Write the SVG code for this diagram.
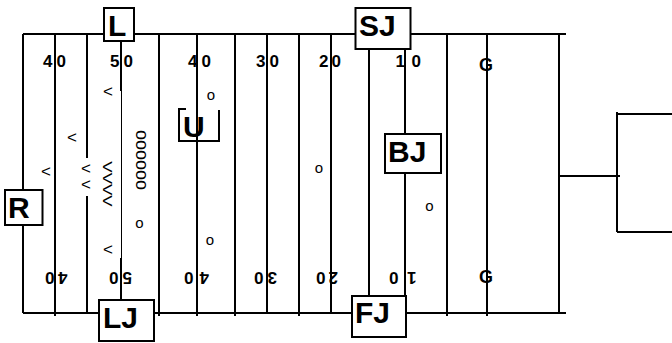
<svg xmlns="http://www.w3.org/2000/svg" width="672" height="343" viewBox="0 0 672 343">
<style>
.ln{stroke:#000;stroke-width:2;fill:none}
.thin{stroke:#000;stroke-width:1;fill:none}
.num{font-family:"Liberation Sans",Arial,sans-serif;font-weight:bold;font-size:17px;fill:#000}
.e{text-anchor:end}
.m{text-anchor:middle}
.box rect{fill:#fff;stroke:#000;stroke-width:2}
.box path{fill:none;stroke:#000;stroke-width:2}
.box text{font-family:"Liberation Sans",Arial,sans-serif;font-weight:bold;font-size:30px;fill:#000}
.pl{font-family:"Liberation Sans",Arial,sans-serif;font-size:17px;text-anchor:middle;fill:#000}
.o{font-size:15px}
.col{font-size:18px}
</style>
<rect x="0" y="0" width="672" height="343" fill="#fff"/>

<g id="goal-marks" class="num m">
<text x="486" y="71" style="font-size:18px">G</text>
<text x="486" y="283" style="font-size:18px">G</text>
</g>

<g id="connectors">
<path class="ln" d="M23,34H566 M23,313H566"/>
<path class="ln" d="M23,34V313 M55,34V316 M87,34V158 M87,196V313 M121,34V91 M121,258V313 M159,34V316 M197,34V316 M235,34V316 M267,34V313 M299,34V316 M331,34V313 M369,34V313 M405,34V316 M447,34V316 M487,34V316 M559,34V313"/>
<path class="thin" d="M121.5,91V258"/>
<path class="ln" d="M559,176H620 M617,112V232 M617,114H672 M617,232H672"/>
</g>

<g id="yard-numbers" class="num">
<text x="52.5" y="67" class="e">4</text><text x="56.5" y="67">0</text>
<text x="119.5" y="67" class="e">5</text><text x="123.5" y="67">0</text>
<text x="197.5" y="67" class="e">4</text><text x="201.5" y="67">0</text>
<text x="265.5" y="67" class="e">3</text><text x="269.5" y="67">0</text>
<text x="328.5" y="67" class="e">2</text><text x="331.5" y="67">0</text>
<text x="405" y="67" class="e">1</text><text x="411.5" y="67">0</text>
<g transform="translate(55,272) rotate(180)"><text x="-3" y="0" class="e">4</text><text x="0.5" y="0">0</text></g>
<g transform="translate(121,272) rotate(180)"><text x="-1.5" y="0" class="e">5</text><text x="2.5" y="0">0</text></g>
<g transform="translate(197,272) rotate(180)"><text x="-2.5" y="0" class="e">4</text><text x="3.5" y="0">0</text></g>
<g transform="translate(267,272) rotate(180)"><text x="-0.5" y="0" class="e">3</text><text x="3.5" y="0">0</text></g>
<g transform="translate(331,272) rotate(180)"><text x="2.5" y="0" class="e">2</text><text x="5.5" y="0">0</text></g>
<g transform="translate(405,272) rotate(180)"><text x="-2" y="0" class="e">1</text><text x="6.5" y="0">0</text></g>
</g>

<g id="players" class="pl">
<text x="108" y="96.5">&lt;</text>
<text x="72" y="142.5">&lt;</text>
<text x="46" y="176.5">&lt;</text>
<text x="86" y="173.5">&lt;<tspan x="86" dy="16">&lt;</tspan></text>
<text x="108" y="254.5">&lt;</text>
<text transform="translate(103,184) rotate(90) scale(1,0.75)">VVVV</text>
<text class="col" transform="translate(135.5,160) rotate(90)">oooooo</text>
<text class="o" x="139.5" y="227.5">o</text>
<text class="o" x="211" y="100">o</text>
<text class="o" x="210" y="245">o</text>
<text class="o" x="319" y="173">o</text>
<text class="o" x="429.5" y="211">o</text>
</g>

<g id="L" class="box"><rect x="104" y="8" width="30" height="33"/><text x="108" y="36">L</text></g>
<g id="SJ" class="box"><rect x="355.5" y="8" width="55" height="41"/><text x="359" y="36">SJ</text></g>
<g id="R" class="box"><rect x="5" y="190" width="37.5" height="35"/><text x="8" y="218">R</text></g>
<g id="BJ" class="box"><rect x="385" y="134" width="56" height="39"/><text x="388" y="162">BJ</text></g>
<g id="LJ" class="box"><rect x="99" y="300" width="55" height="41"/><text x="103" y="328">LJ</text></g>
<g id="FJ" class="box"><rect x="352" y="296" width="54" height="41"/><text x="355" y="323">FJ</text></g>
<g id="U" class="box"><text x="183" y="137">U</text><path d="M179,109H186 M179,108V141H219V110"/><path d="M197,100V150"/></g>
</svg>
